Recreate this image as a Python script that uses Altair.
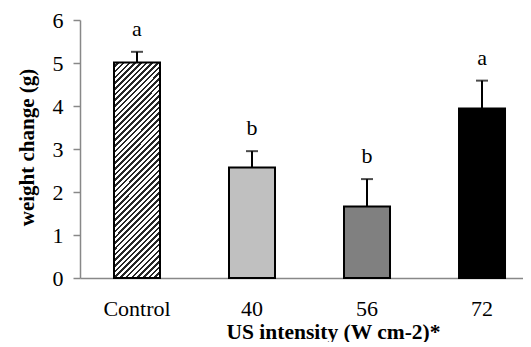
import altair as alt
import pandas as pd

groups = ["Control", "40", "56", "72"]
means = [5.01, 2.57, 1.66, 3.94]
err_tops = [5.26, 2.95, 2.30, 4.59]
letters = ["a", "b", "b", "a"]
fills = ["#c0c0c0", "#808080", "#000000"]

df = pd.DataFrame({"group": groups, "mean": means, "top": err_tops, "letter": letters})

# diagonal hatch as a hard-stop linear gradient (style only)
stops = []
period = 0.0217
k = 0
while k * period < 1.0:
    o = k * period
    stops.append(alt.GradientStop(offset=round(o, 4), color="#ffffff"))
    stops.append(alt.GradientStop(offset=round(min(o + period * 0.55, 1.0), 4), color="#ffffff"))
    stops.append(alt.GradientStop(offset=round(min(o + period * 0.55, 1.0), 4), color="#262626"))
    stops.append(alt.GradientStop(offset=round(min(o + period, 1.0), 4), color="#262626"))
    k += 1
hatch = alt.LinearGradient(gradient="linear", stops=stops, x1=0, y1=0, x2=0.25, y2=1.168)

serif = "Liberation Serif"

xscale = alt.Scale(domain=groups, paddingInner=0.6, paddingOuter=0.226, align=0.654)
x = alt.X(
    "group:N", sort=groups, scale=xscale,
    axis=alt.Axis(
        title="US intensity (W cm-2)*", ticks=False, labelAngle=0, labelPadding=20,
        labelFont=serif, labelFontSize=22, labelColor="black",
        titleFont=serif, titleFontSize=21.5, titleFontWeight="bold", titleColor="black",
        titleX=253, titleY=60, titleBaseline="alphabetic", titleAlign="center",
        domainColor="#888888", domainWidth=1.5,
    ),
)
y = alt.Y(
    "mean:Q", scale=alt.Scale(domain=[0, 6], nice=False),
    axis=alt.Axis(
        title="weight change (g)", values=[0, 1, 2, 3, 4, 5, 6], grid=False,
        tickSize=7, tickColor="#888888", tickWidth=1.5, labelPadding=10,
        labelFont=serif, labelFontSize=22, labelColor="black",
        titleFont=serif, titleFontSize=21, titleFontWeight="bold", titleColor="black",
        titleX=-47, titleY=127, titleBaseline="alphabetic", titleAlign="center", titleAngle=270,
        domainColor="#888888", domainWidth=1.5,
    ),
)

base = alt.Chart(df)

bar_ctrl = base.transform_filter(alt.datum.group == "Control").mark_bar(
    fill=hatch, stroke="black", strokeWidth=2
).encode(x=x, y=y)

bar_rest = base.transform_filter(alt.datum.group != "Control").mark_bar(
    stroke="black", strokeWidth=2
).encode(
    x=x, y=y,
    fill=alt.Fill("group:N", scale=alt.Scale(domain=groups[1:], range=fills), legend=None),
)

err = base.mark_rule(color="black", strokeWidth=2).encode(x=x, y="mean:Q", y2="top:Q")
cap = base.mark_tick(color="black", thickness=2, size=12, orient="horizontal").encode(x=x, y="top:Q")
txt = base.mark_text(font=serif, fontSize=22, color="black", baseline="alphabetic", dy=-16).encode(
    x=x, y="top:Q", text="letter:N"
)

chart = alt.layer(bar_ctrl, bar_rest, err, cap, txt).properties(
    width=443, height=258,
    autosize=alt.AutoSizeParams(type="none"),
    padding={"left": 72, "top": 12, "right": 0, "bottom": 64},
).configure_view(stroke=None)

chart.save("out.html", embed_options={"renderer": "svg", "actions": False})
